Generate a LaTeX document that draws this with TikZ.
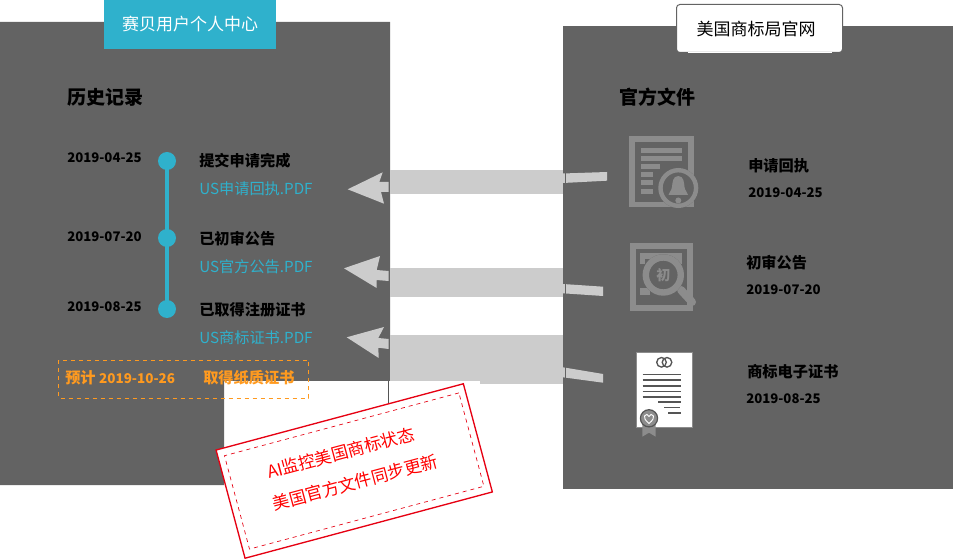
\documentclass[tikz,border=0pt]{standalone}
\usepackage{fontspec}
\setmainfont{Noto Sans CJK SC}
\definecolor{panelgrey}{HTML}{636363}
\definecolor{bandgrey}{HTML}{CCCCCC}
\definecolor{icongrey}{HTML}{8C8C8C}
\definecolor{linegrey}{HTML}{555555}
\definecolor{cyanblue}{HTML}{2FB1CC}
\definecolor{orangetext}{HTML}{FF9A1F}
\definecolor{stampred}{HTML}{E60012}
\tikzset{
  head/.style={font=\fontsize{14.25}{16}\selectfont\bfseries,text=black,right,inner sep=0pt},
  item/.style={font=\fontsize{11.4}{13}\selectfont\bfseries,text=black,right,inner sep=0pt},
  datum/.style={font=\fontsize{9.9}{13}\selectfont\bfseries,text=black,right,inner sep=0pt},
  pdf/.style={font=\fontsize{11.4}{13}\selectfont,text=cyanblue,right,inner sep=0pt},
  plan/.style={font=\fontsize{11.4}{13}\selectfont\bfseries,text=orangetext,right,inner sep=0pt},
  stamptext/.style={font=\fontsize{12.8}{15}\selectfont,text=red,rotate=15,inner sep=0pt},
  dot/.style={circle,fill=cyanblue,minimum size=13.5pt,inner sep=0pt},
}
\begin{document}
\begin{tikzpicture}[x=0.75pt,y=-0.75pt]
  \useasboundingbox (0,0) rectangle (953,559);
  % panels
  \fill[panelgrey] (0,22)--(390,22)--(390,381)--(224,381)--(224,485)--(0,485)--cycle;
  \fill[panelgrey] (563,26) rectangle (953,489);
  \draw[linegrey,line width=0.6pt] (388.7,381)--(388.7,405);

  % grey bands and arrows
  \fill[bandgrey] (390,170) rectangle (563,194);
  \fill[bandgrey] (390,268) rectangle (563,297);
  \fill[bandgrey] (390,335) rectangle (563,384);
  \fill[white] (390,381) rectangle (480,385);

  \fill[bandgrey] (347.7,189.3)--(382.7,172.3)--(379.3,182)--(388.7,182)--(388.7,192)--(381,192)--(384,203.7)--cycle;
  \fill[bandgrey] (344,268.3)--(380,256)--(376.7,270)--(388.7,271)--(388.7,281)--(376.7,280)--(376.7,288)--cycle;
  \fill[bandgrey] (346.7,337.3)--(384,327)--(378.3,338)--(388.7,339)--(388.7,349)--(378.3,347.7)--(378.7,358)--cycle;

  \fill[bandgrey] (563,173.5)--(607,172)--(607,180.7)--(563,183)--cycle;
  \fill[bandgrey] (563,284)--(603,286.7)--(603,296)--(563,293.3)--cycle;
  \fill[bandgrey] (563,367.3)--(603,374)--(603,382.7)--(563,377.3)--cycle;
  \draw[panelgrey,line width=0.6pt] (565.3,172)--(565.3,185);
  \draw[panelgrey,line width=0.6pt] (565.3,283)--(565.3,295);
  \draw[panelgrey,line width=0.6pt] (565.3,366)--(565.3,379);

  % left panel
  \fill[cyanblue] (104,0) rectangle (276,49);
  \node (userhead) at (190,24.5) [font=\fontsize{12.75}{15}\selectfont,text=white,inner sep=0pt] {赛贝用户个人中心};
  \node (history) at (67,97) [head] {历史记录};

  \draw[cyanblue,line width=2.4pt] (167,161)--(167,309);
  \node (dota) at (167,161) [dot] {};
  \node (dotb) at (167,238) [dot] {};
  \node (dotc) at (167,309) [dot] {};

  \node (datea) at (67,158) [datum] {2019-04-25};
  \node (dateb) at (67,237) [datum] {2019-07-20};
  \node (datec) at (67,307) [datum] {2019-08-25};
  \node (itema) at (199,161) [item] {提交申请完成};
  \node (itemb) at (199,239) [item] {已初审公告};
  \node (itemc) at (199,310) [item] {已取得注册证书};
  \node (pdfa) at (199,188.5) [pdf] {US申请回执.PDF};
  \node (pdfb) at (199,266.5) [pdf] {US官方公告.PDF};
  \node (pdfc) at (199,337.5) [pdf] {US商标证书.PDF};

  \draw[orangetext,line width=0.75pt,dashed] (58.5,360.5) rectangle (308.5,398.5);
  \node (plandate) at (65,378) [plan] {预计 {\fontsize{10.1}{13}\selectfont 2019-10-26}};
  \node (planpaper) at (203,378) [plan] {取得纸质证书};

  % right panel
  \draw[panelgrey,fill=white,line width=0.75pt,rounded corners=2.5pt] (676.5,4.5) rectangle (842.5,52.5);
  \draw[white,line width=0.75pt] (688,53)--(832,53);
  \node (ushead) at (756,29.5) [font=\fontsize{12.75}{15}\selectfont,text=black,inner sep=0pt] {美国商标局官网};
  \node (office) at (619,97) [head] {官方文件};

  \node (itemd) at (748,166) [item] {申请回执};
  \node (dated) at (748,193) [datum] {2019-04-25};
  \node (iteme) at (746,263) [item] {初审公告};
  \node (datee) at (746,290) [datum] {2019-07-20};
  \node (itemf) at (747,372) [item] {商标电子证书};
  \node (datef) at (746,399) [datum] {2019-08-25};

  % receipt icon
  \draw[icongrey,line width=4.2pt] (631.8,139) rectangle (691.2,204.5);
  \fill[icongrey] (641,148) rectangle (682,153);
  \fill[icongrey] (641,156) rectangle (682,161);
  \fill[icongrey] (641,164) rectangle (660,169);
  \fill[icongrey] (641,172) rectangle (653,177);
  \fill[icongrey] (641,180) rectangle (653,185);
  \fill[icongrey] (641,189) rectangle (653,194);
  \fill[panelgrey] (678.3,188) circle (20);
  \draw[icongrey,line width=3.3pt] (678.3,188) circle (17.8);
  \fill[icongrey] (678.3,176) .. controls (672.5,176) and (672.5,183) .. (672,187) .. controls (671.5,191) and (669,192) .. (668.5,195)--(688,195) .. controls (687.5,192) and (685,191) .. (684.5,187) .. controls (684,183) and (684,176) .. (678.3,176)--cycle;
  \fill[icongrey] (678.3,200.5) circle (3);

  % notice icon
  \draw[icongrey,line width=4.2pt] (632.8,245.8) rectangle (689.8,308.2);
  \fill[icongrey] (640,253) rectangle (682,259);
  \fill[icongrey] (640,253) rectangle (645,264);
  \fill[icongrey] (677,253) rectangle (682,264);
  \fill[icongrey] (640,288) rectangle (650,295);
  \draw[icongrey,line width=6pt,line cap=round] (681,290)--(692,302);
  \fill[panelgrey] (663.3,275) circle (20.7);
  \draw[icongrey,line width=4.8pt] (663.3,275) circle (17.5);
  \node (mark) at (663.3,275) [font=\fontsize{10.5}{12}\selectfont\bfseries,text=icongrey,inner sep=0pt] {初};

  % certificate icon
  \draw[icongrey,fill=white,line width=0.5pt] (636,352.5) rectangle (692,427);
  \draw[linegrey,line width=1pt] (661.5,362.3) circle (4.8);
  \draw[linegrey,line width=1pt] (667,362.3) circle (4.8);
  \draw[linegrey,line width=1.2pt] (642.7,374.7)--(681,374.7);
  \draw[linegrey,line width=1.2pt] (642.7,380.3)--(681,380.3);
  \draw[linegrey,line width=1.2pt] (642.7,386)--(681,386);
  \draw[linegrey,line width=1.2pt] (642.7,391.7)--(681,391.7);
  \draw[linegrey,line width=1.2pt] (642.7,397.3)--(681,397.3);
  \draw[linegrey,line width=1.2pt] (658,402.3)--(681,402.3);
  \draw[linegrey,line width=1.2pt] (664.3,407.7)--(680.3,407.7);
  \draw[linegrey,line width=1.2pt] (668.3,413.3)--(681,413.3);
  \fill[icongrey] (642.3,424)--(655.7,424)--(655.7,436.7)--(649,432.7)--(642.3,436.7)--cycle;
  \draw[linegrey,fill=icongrey,line width=0.9pt] (649,418.3) circle (8.6);
  \draw[white,line width=0.7pt] (649,423.5) .. controls (645,420) and (644,418) .. (644.5,416) .. controls (645.5,413.5) and (648.5,414) .. (649,416.5) .. controls (649.5,414) and (652.5,413.5) .. (653.5,416) .. controls (654,418) and (653,420) .. (649,423.5)--cycle;

  % stamp
  \node (stamp) at (354.2,471) [draw=stampred,fill=white,line width=1pt,rotate=15,minimum width=192pt,minimum height=84pt] {};
  \node (stampin) at (354.2,471) [draw=stampred,dashed,line width=0.5pt,rotate=15,minimum width=182pt,minimum height=72.5pt] {};
  \node (stampa) at (340.7,453) [stamptext] {AI监控美国商标状态};
  \node (stampb) at (355.3,482.4) [stamptext] {美国官方文件同步更新};
 \end{tikzpicture}
\end{document}
